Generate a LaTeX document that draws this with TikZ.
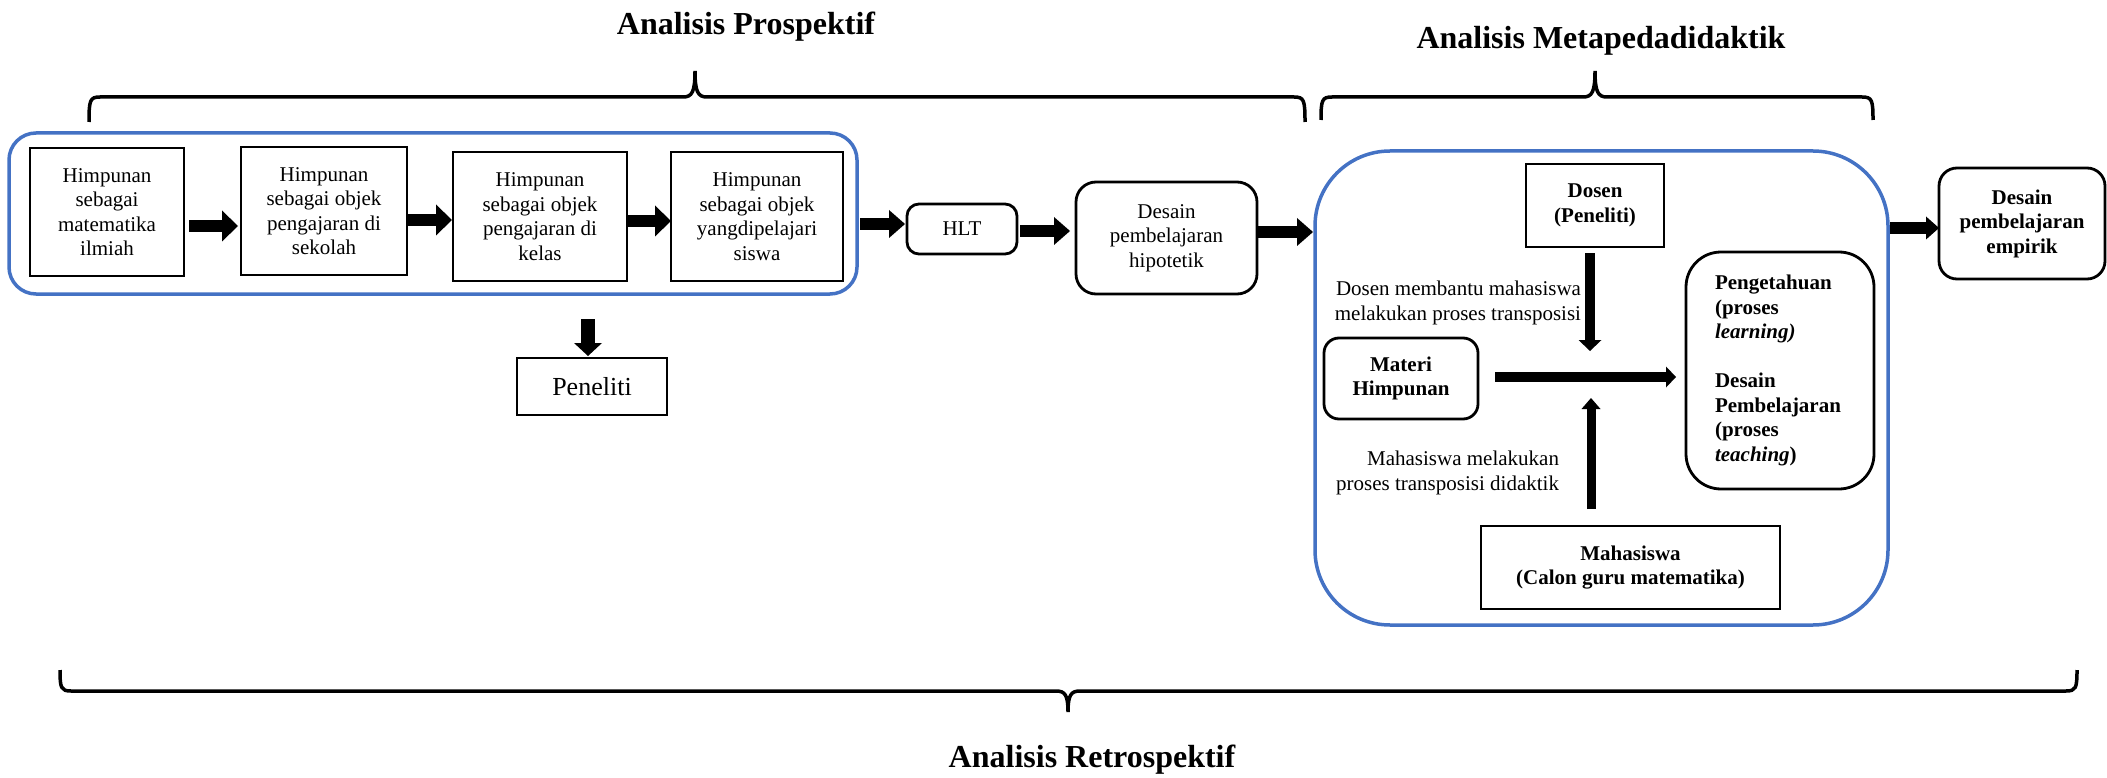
\documentclass[tikz,border=0pt]{standalone}
\usepackage{fontspec}
\setmainfont{Liberation Serif}
\usetikzlibrary{arrows.meta,calc}
\definecolor{pblue}{HTML}{4472C4}
\begin{document}
\begin{tikzpicture}[x=1pt,y=-1pt,
  every node/.style={inner sep=0pt, outer sep=0pt},
  body/.style={font=\fontsize{21}{24.5}\selectfont},
  bbody/.style={font=\fontsize{21}{24.5}\selectfont\bfseries},
  sqbox/.style={draw, line width=2.8pt, align=center, body},
  rbox/.style={sqbox, rounded corners=#1},
  rbox/.default=15pt,
  group/.style={draw=pblue, line width=3.5pt, rounded corners=#1},
  ttl/.style={font=\fontsize{32}{38}\selectfont\bfseries, anchor=base},
  brace/.style={line width=3.5pt},
  blk/.style n args={3}{line width=#1pt, -{Triangle[width=#2pt,length=#3pt,line width=0pt]}},
  lbl/.style={body, align=right, anchor=east}
]
\useasboundingbox (0,0) rectangle (2107,778);

% titles
\node[ttl] (t1) at (746,35) {Analisis Prospektif};
\node[ttl] (t2) at (1601,49) {Analisis Metapedadidaktik};
\node[ttl] (t3) at (1092,767) {Analisis Retrospektif};

% braces
\draw[brace] (89,122) .. controls (89,100) and (90,97) .. (100,97) -- (683,97)
  .. controls (692,97) and (695,92) .. (695,71)
  .. controls (695,92) and (698,97) .. (707,97) -- (1294,97)
  .. controls (1304,97) and (1305,100) .. (1305,122);
\draw[brace] (1321,120) .. controls (1321,100) and (1322,97) .. (1332,97) -- (1583,97)
  .. controls (1592,97) and (1595,92) .. (1595,71)
  .. controls (1595,92) and (1598,97) .. (1607,97) -- (1862,97)
  .. controls (1872,97) and (1873,100) .. (1873,120);
\draw[brace] (60,670) .. controls (60,688) and (61,691) .. (71,691) -- (1056,691)
  .. controls (1065,691) and (1068,695) .. (1068,712)
  .. controls (1068,695) and (1071,691) .. (1080,691) -- (2066,691)
  .. controls (2076,691) and (2077,688) .. (2077,670);

% group frames
\node[group=27pt, minimum width=848pt, minimum height=161pt] (g1) at (433,213.5) {};
\node[group=75pt, minimum width=573pt, minimum height=474pt] (g2) at (1601.5,388) {};

% prospective chain
\node[sqbox, minimum width=154pt, minimum height=128pt] (A) at (107,212) {Himpunan\\sebagai\\matematika\\ilmiah};
\node[sqbox, minimum width=166pt, minimum height=128pt] (B) at (324,211) {Himpunan\\sebagai objek\\pengajaran di\\sekolah};
\node[sqbox, minimum width=174pt, minimum height=129pt] (C) at (540,216.5) {Himpunan\\sebagai objek\\pengajaran di\\kelas};
\node[sqbox, minimum width=172pt, minimum height=129pt] (D) at (757,216.5) {Himpunan\\sebagai objek\\yangdipelajari\\siswa};
\node[sqbox, minimum width=150pt, minimum height=57pt, font=\fontsize{26}{30}\selectfont] (Pen) at (592,386.5) {Peneliti};
\node[rbox=12pt, minimum width=110pt, minimum height=50pt] (HLT) at (962,229) {HLT};
\node[rbox=20pt, minimum width=181pt, minimum height=112pt] (hyp) at (1166.5,238) {Desain\\pembelajaran\\hipotetik};

% metapedadidaktik
\node[sqbox, bbody, minimum width=138pt, minimum height=83pt] (Dos) at (1595,205.5) {Dosen\\(Peneliti)};
\node[rbox=15pt, bbody, minimum width=154pt, minimum height=81pt] (Mat) at (1401,378.5) {Materi\\Himpunan};
\node[sqbox, bbody, minimum width=299pt, minimum height=83pt] (Mah) at (1630.5,567.5) {Mahasiswa\\(Calon guru matematika)};
\node[rbox=35pt, bbody, align=left, text width=130pt, inner xsep=29pt, minimum width=188pt, minimum height=237pt] (Peng) at (1780,370.5)
  {Pengetahuan\\(proses\\\textit{learning)}\\[24.5pt]Desain\\Pembelajaran\\(proses\\\textit{teaching})};
\node[rbox=18pt, bbody, minimum width=166pt, minimum height=111pt] (emp) at (2022,223.5) {Desain\\pembelajaran\\empirik};

\node[lbl] (l1) at (1581,303) {Dosen membantu mahasiswa\\melakukan proses transposisi};
\node[lbl] (l2) at (1559,473) {Mahasiswa melakukan\\proses transposisi didaktik};

\coordinate (cross) at (1591,377);

% arrows
\draw[blk={12}{31}{16}] ($(A.east)+(5,14)$) -- ($(B.west)+(-3,15)$);
\draw[blk={12}{31}{16}] ($(B.east)+(1,9)$) -- ($(C.west)+(-1,3.5)$);
\draw[blk={12}{31}{16}] ($(C.east)+(1,4.5)$) -- ($(D.west)+(0,4.5)$);
\draw[blk={12}{28}{16}] ($(g1.east)+(3,10.5)$) -- ($(HLT.west)+(-2,-5)$);
\draw[blk={12}{28}{16}] ($(HLT.east)+(3,2)$) -- ($(hyp.west)+(-6,-7)$);
\draw[blk={12}{28}{16}] ($(hyp.east)+(0,-6)$) -- ($(g2.west)+(-2,-156)$);
\draw[blk={12}{23}{13}] ($(g2.east)+(2,-160)$) -- ($(emp.west)+(0,4.5)$);
\draw[blk={14}{28}{13}] ($(g1.south)+(155,25)$) -- ($(Pen.north)+(-4,-2)$);
\draw[blk={10}{23}{11}] ($(Dos.south)+(-5,6)$) -- ($(cross)+(-1,-26)$);
\draw[blk={9}{19}{11}] ($(Mah.north)+(-39.5,-17)$) -- ($(cross)+(0,21)$);
\draw[blk={10}{21}{10}] ($(Mat.east)+(17,-1.5)$) -- ($(Peng.west)+(-10,6.5)$);
\end{tikzpicture}
\end{document}
